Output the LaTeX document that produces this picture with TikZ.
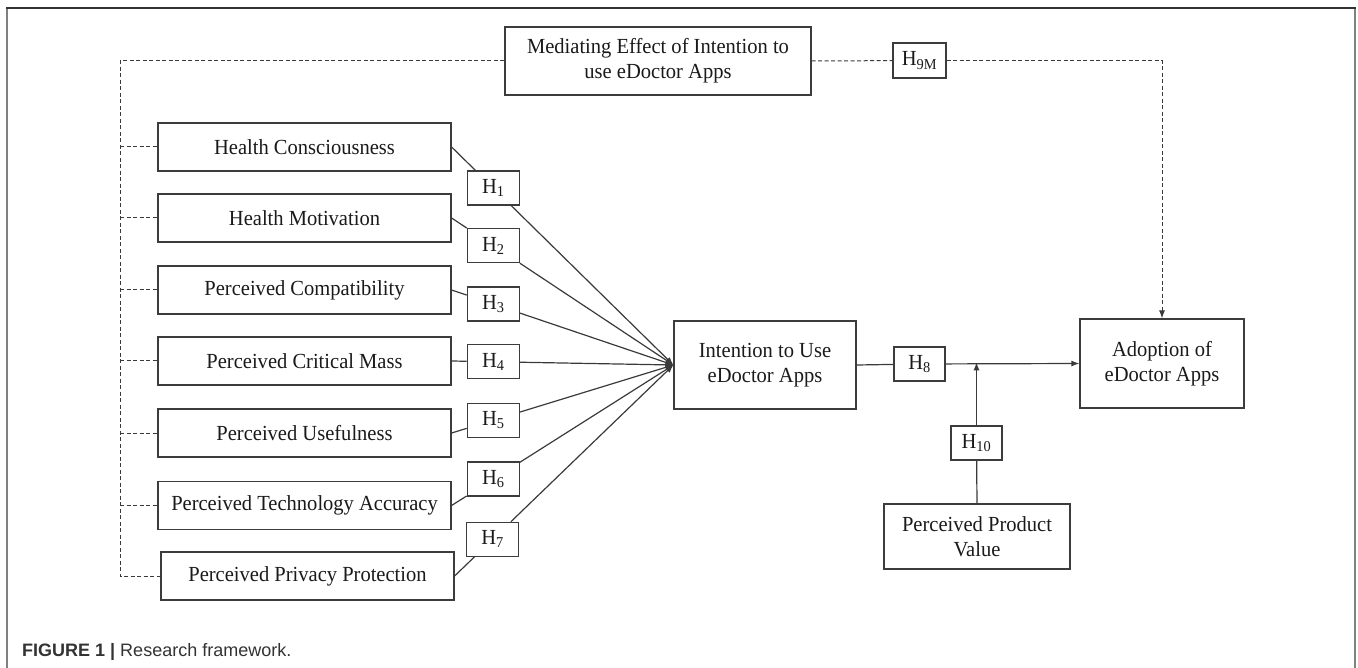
\documentclass[tikz,border=0pt]{standalone}
\usepackage{fontspec}
\setmainfont{Liberation Serif}[FakeStretch=0.955]
\newfontfamily\capfont{Liberation Sans}
\usetikzlibrary{calc,arrows.meta}
\definecolor{boxc}{HTML}{3C3C3C}
\definecolor{linec}{HTML}{3A3A3A}
\definecolor{txt}{HTML}{1A1A1A}
\definecolor{framec}{HTML}{808080}
\definecolor{framet}{HTML}{333333}
\begin{document}
\begin{tikzpicture}[x=1pt,y=-1pt,
  every node/.style={font=\fontsize{21.5}{25}\selectfont, text=txt},
  cbox/.style={draw=boxc, line width=1.2pt, inner sep=0pt, align=center, fill=white},
  lbox/.style={cbox, minimum width=293pt, minimum height=48pt},
  hbox/.style={cbox, minimum width=52pt, minimum height=34pt},
  conn/.style={draw=linec, line width=1.2pt},
  tip/.style={-{Latex[length=8pt,width=6pt]}},
  dsh/.style={draw=linec, line width=1pt, dash pattern=on 4pt off 2.5pt}
]
\useasboundingbox (0,0) rectangle (1358,668);
% frame
\draw[framec, line width=2pt] (7,668) -- (7,8);
\draw[framec, line width=2.5pt] (1355,8) -- (1355,668);
\draw[framet, line width=1.6pt] (6,8) -- (1356,8);

% left boxes
\node[lbox] (hc)  at (304.5,147) {Health Consciousness};
\node[lbox] (hm)  at (304.5,218) {Health Motivation};
\node[lbox] (pc)  at (304.5,290) {Perceived Compatibility};
\node[lbox] (pcm) at (304.5,361) {Perceived Critical Mass};
\node[lbox] (pu)  at (304.5,433) {Perceived Usefulness};
\node[lbox] (pta) at (304.5,505.5) {Perceived Technology Accuracy};
\node[lbox] (ppp) at (307.5,576) {Perceived Privacy Protection};

% central boxes
\node[cbox, minimum width=306pt, minimum height=68pt] (med) at (658,61)
  {Mediating Effect of Intention to\\use eDoctor Apps};
\node[cbox, minimum width=182pt, minimum height=88pt] (int) at (765,365)
  {Intention to Use\\eDoctor Apps};
\node[cbox, minimum width=164pt, minimum height=89pt] (ad) at (1162,363.5)
  {Adoption of\\eDoctor Apps};
\node[cbox, minimum width=186pt, minimum height=65pt] (ppv) at (977,536.5)
  {Perceived Product\\Value};

% hypothesis boxes
\node[hbox] (h1) at ($(hc.east)!0.188!(int.west)$) {H\textsubscript{1}};
\node[hbox] (h2) at ($(hm.east)!0.188!(int.west)$) {H\textsubscript{2}};
\node[hbox] (h3) at ($(pc.east)!0.188!(int.west)$) {H\textsubscript{3}};
\node[hbox] (h4) at ($(pcm.east)!0.188!(int.west)$) {H\textsubscript{4}};
\node[hbox] (h5) at ($(pu.east)!0.188!(int.west)$) {H\textsubscript{5}};
\node[hbox] (h6) at ($(pta.east)!0.188!(int.west)$) {H\textsubscript{6}};
\node[hbox] (h7) at ($(ppp.east)!0.174!(int.west)$) {H\textsubscript{7}};
\node[hbox, minimum width=53pt, minimum height=35pt] (h9) at (919.5,60.5) {H\textsubscript{9M}};
\node[hbox, minimum width=51pt] (h8) at (919.5,364) {H\textsubscript{8}};
\node[hbox, minimum width=51pt] (h10) at (976.5,443) {H\textsubscript{10}};

% solid connectors to intention
\foreach \s/\h in {hc/h1,hm/h2,pc/h3,pcm/h4,pu/h5,pta/h6,ppp/h7}{
  \path[conn] (\s.east) -- (\h);
  \path[conn, tip] (\h) -- (int.west);
}
% intention -> adoption
\path[conn] (int.east) -- (h8);
\path[conn, tip] (h8) -- (ad.west);
% moderation
\coordinate (j) at (h10 |- ad.west);
\path[conn] (ppv.north) -- (h10);
\path[conn, tip] (h10) -- ([yshift=1.2pt]j);

% mediation (dashed)
\coordinate (lt) at (120,61);
\coordinate (lb) at (lt |- ppp.west);
\path[dsh] (med.west) -- (lt) -- (lb) -- (ppp.west);
\foreach \b in {hc,hm,pc,pcm,pu,pta}{
  \path[dsh] (lt |- \b.west) -- (\b.west);
}
\path[dsh] (med.east) -- (h9);
\path[dsh, tip] (h9.east) -| (ad.north);

% caption
\node[anchor=base west, inner sep=0pt, text=framet,
  font={\capfont\fontsize{18}{20}\selectfont}] (cap) at (22,656)
  {\textbf{FIGURE 1 | }Research framework.};
\end{tikzpicture}
\end{document}
